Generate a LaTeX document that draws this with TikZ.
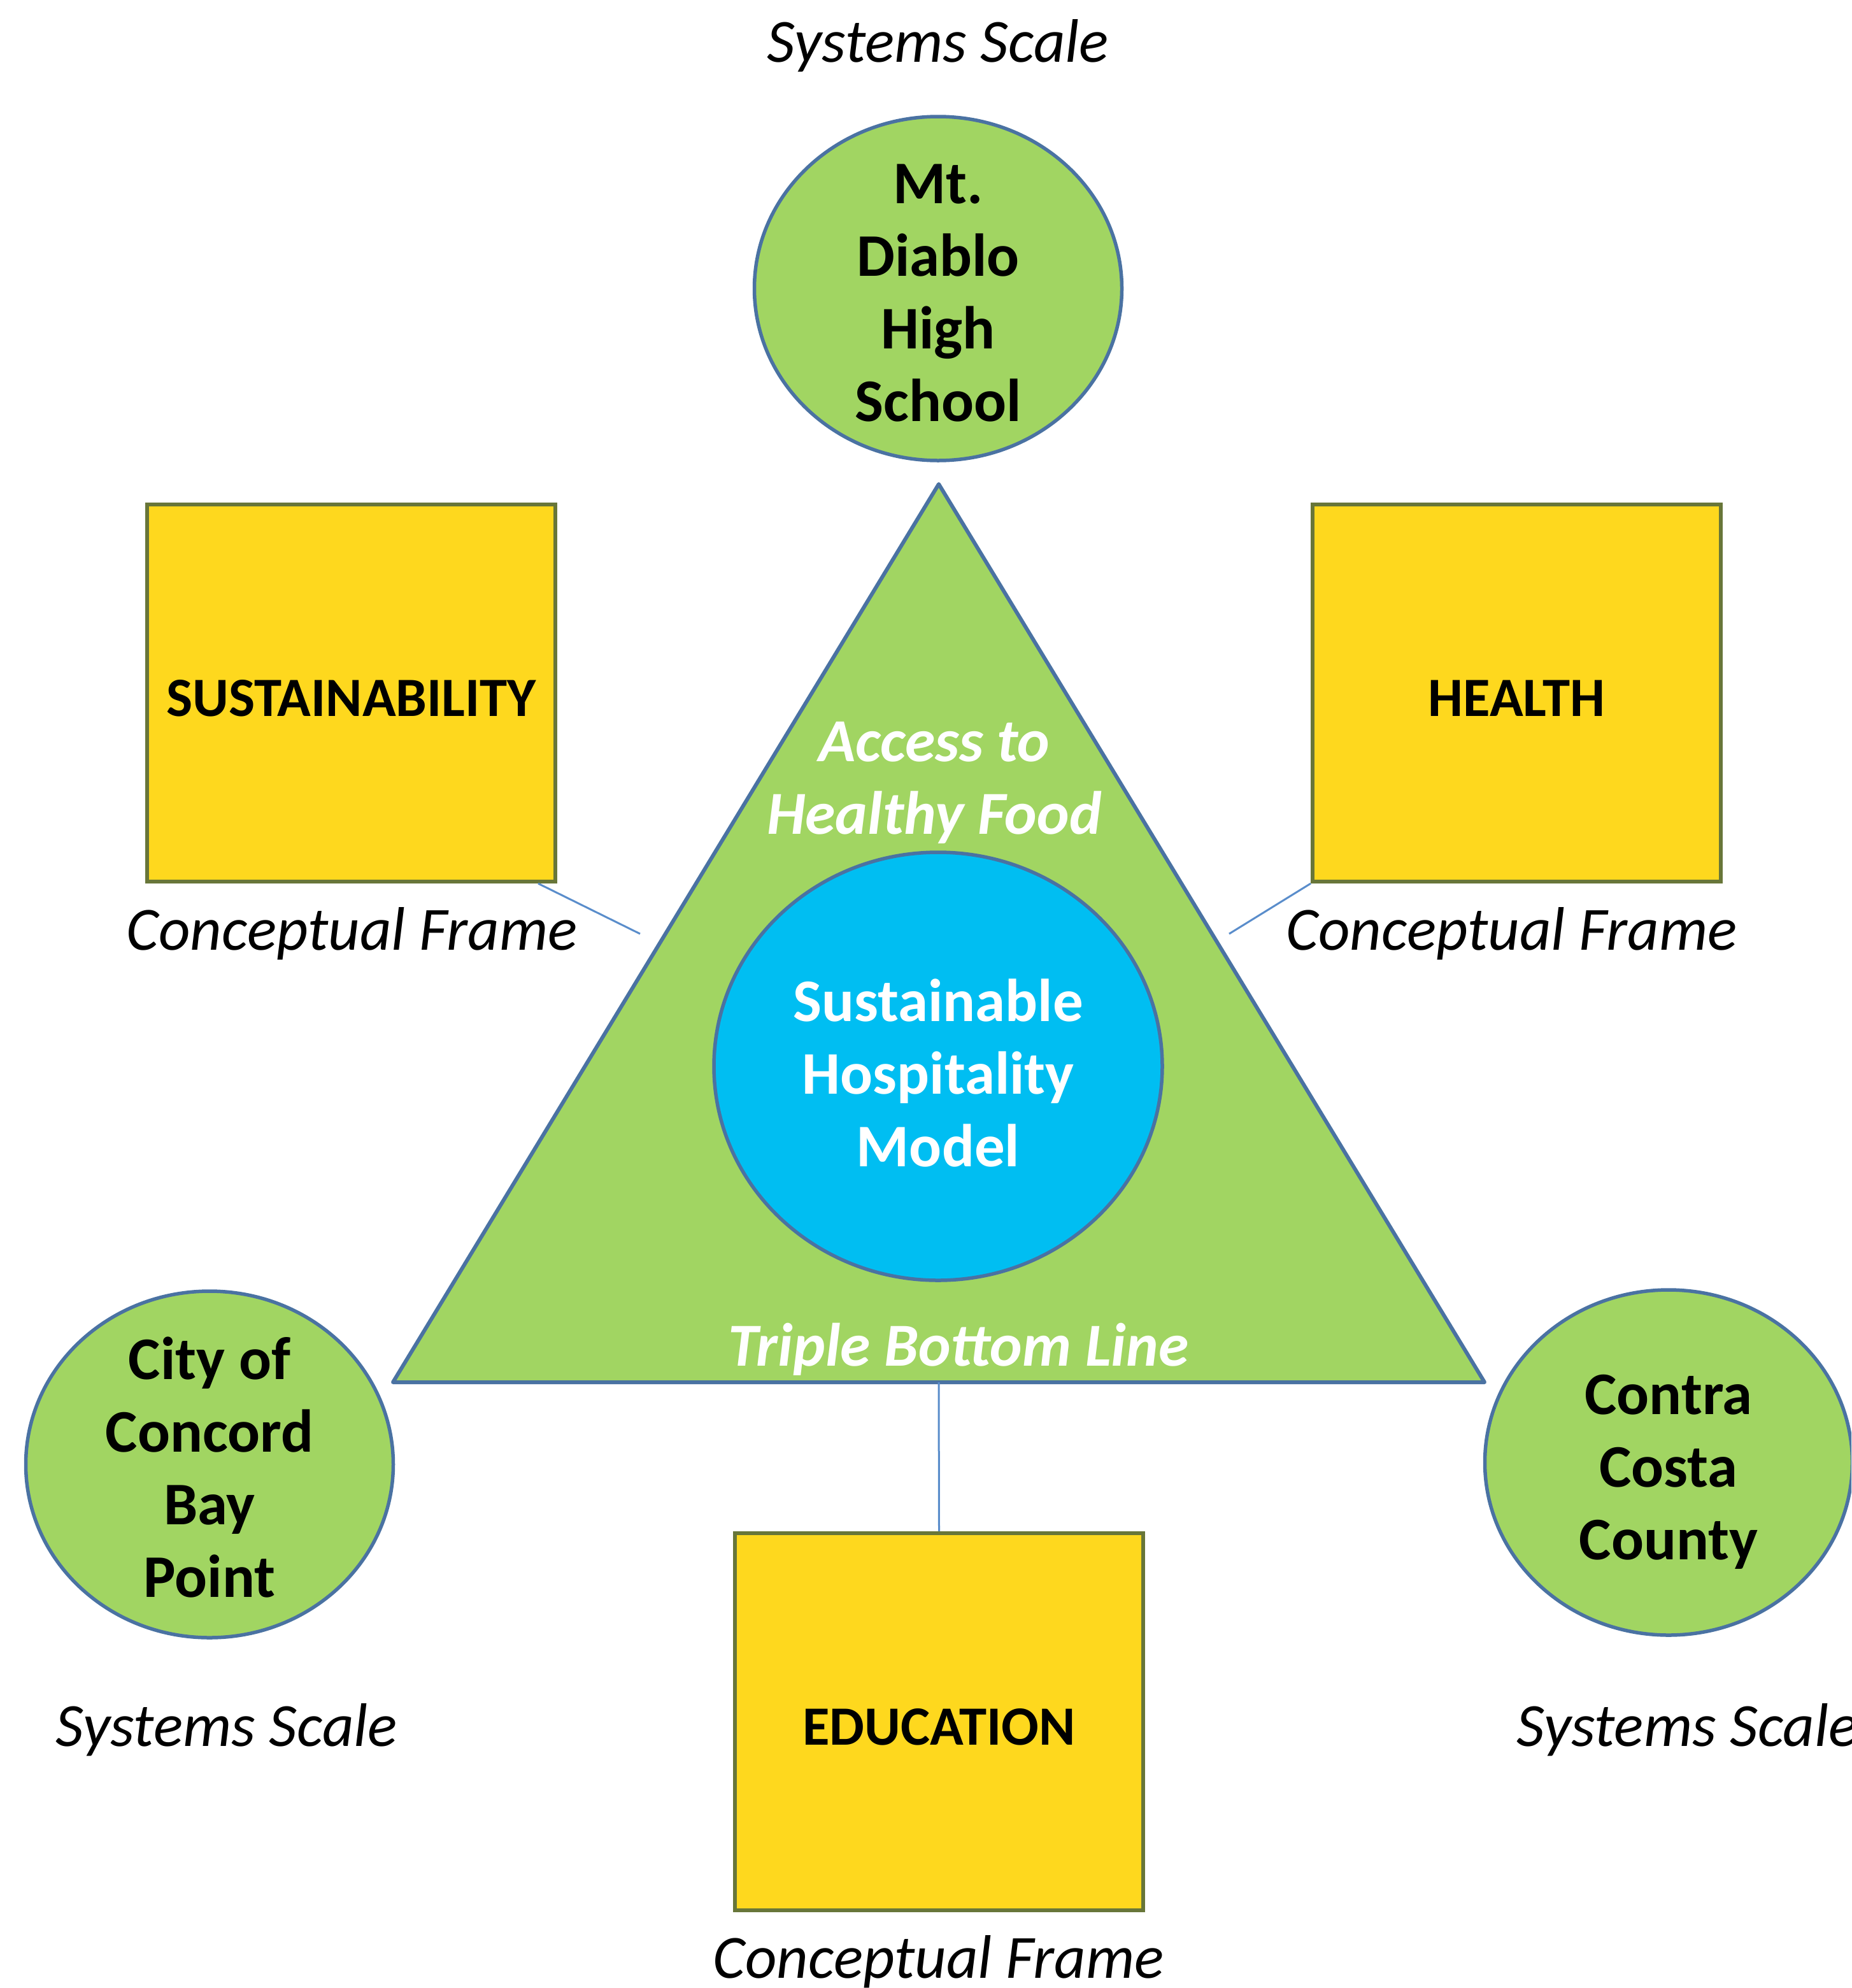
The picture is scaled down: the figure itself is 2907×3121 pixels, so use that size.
\documentclass[tikz,border=0pt]{standalone}
\usepackage{fontspec}
\setmainfont{Carlito}
\usetikzlibrary{shapes.geometric}

\definecolor{leaf}{HTML}{A1D562}
\definecolor{edgeblue}{HTML}{4A72A2}
\definecolor{sun}{HTML}{FED81E}
\definecolor{olive}{HTML}{687639}
\definecolor{sky}{HTML}{00BEF2}
\definecolor{linkblue}{HTML}{5A8DCB}

\begin{document}
\begin{tikzpicture}[x=1pt,y=-1pt,
  org/.style={ellipse, draw=edgeblue, fill=leaf, line width=5.5pt, inner sep=0pt},
  hub/.style={ellipse, draw=edgeblue, fill=sky, line width=5.5pt, inner sep=0pt,
    minimum width=704pt, minimum height=672pt},
  frame/.style={rectangle, draw=olive, fill=sun, line width=6pt, inner sep=0pt,
    minimum width=641pt, minimum height=592pt},
  big/.style={font=\fontsize{95}{114}\selectfont\bfseries, align=center},
  bigwhite/.style={big, text=white},
  note/.style={font=\fontsize{96.5}{116}\selectfont\itshape},
  notewhite/.style={font=\fontsize{96}{114}\selectfont\bfseries\itshape, text=white, align=center},
  boxlabel/.style={font=\fontsize{87}{104}\selectfont\bfseries},
  link/.style={draw=linkblue, line width=3pt}]

\useasboundingbox (0,0) rectangle (2907,3121);
\clip (0,0) rectangle (2907,3121);

% central triangle
\coordinate (tA) at (1474,760);
\coordinate (tL) at (617,2170);
\coordinate (tR) at (2331,2170);
\coordinate (tB) at (1474,2170);
\draw[edgeblue, fill=leaf, line width=6pt, line join=round] (tA) -- (tL) -- (tR) -- cycle;

% core model
\node[hub] (hub) at (1473,1674) {};
\node[bigwhite] (hubtext) at (1473,1684) {Sustainable\\Hospitality\\Model};
\node[notewhite] (access) at (1467,1229) {Access to\\Healthy Food};
\node[notewhite] (tbl) at (1505,2118) {Triple Bottom Line};

% systems scale ellipses
\node[org, minimum width=577pt, minimum height=540pt] (mdhs) at (1473,453) {};
\node[big] (mdhstext) at (1473,460) {Mt.\\Diablo\\High\\School};
\node[note] (sstop) at (1473,72) {Systems Scale};

\node[org, minimum width=577pt, minimum height=544pt] (concord) at (329,2299) {};
\node[big] (concordtext) at (329,2303) {City of\\Concord\\Bay\\Point};
\node[note] (ssleft) at (356,2716) {Systems Scale};

\node[org, minimum width=577pt, minimum height=542pt] (ccc) at (2620,2296) {};
\node[big] (ccctext) at (2620,2311) {Contra\\Costa\\County};
\node[note, anchor=west] (ssright) at (2378,2716) {Systems Scale};

% conceptual frames
\node[frame] (sust) at (551.5,1088) {};
\node[boxlabel] at ([yshift=-8pt]sust.center) {SUSTAINABILITY};
\node[note] (cfleft) at (553,1466) {Conceptual Frame};

\node[frame] (health) at (2381.5,1088) {};
\node[boxlabel] at ([yshift=-8pt]health.center) {HEALTH};
\node[note] (cfright) at (2374,1466) {Conceptual Frame};

\node[frame] (edu) at (1474.5,2703) {};
\node[boxlabel] at ([yshift=-8pt]edu.center) {EDUCATION};
\node[note] (cfbottom) at (1474,3080) {Conceptual Frame};

% connectors
\coordinate (lend) at (1005,1466);
\coordinate (rend) at (1930,1466);
\draw[link] ([xshift=-30pt]sust.south east) -- (lend);
\draw[link] (health.south west) -- (rend);
\draw[link] (tB) -- (edu.north);

\end{tikzpicture}
\end{document}
